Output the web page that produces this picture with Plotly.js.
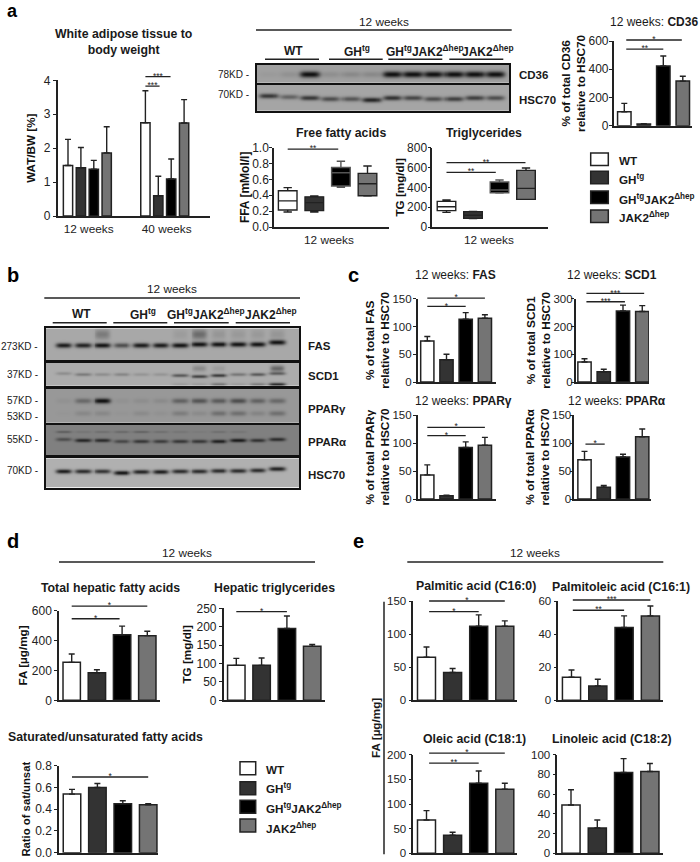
<!DOCTYPE html>
<html><head><meta charset="utf-8">
<script src="https://cdn.plot.ly/plotly-3.0.1.min.js"></script>
<style>html,body{margin:0;padding:0;background:#fff}#chart{width:700px;height:862px}</style>
</head><body><div id="chart"></div>
<script>
// ---------- data ----------
const groups = ['WT','GH<sup>tg</sup>','GH<sup>tg</sup>JAK2<sup>Δhep</sup>','JAK2<sup>Δhep</sup>'];
const groupColors = ['#ffffff','#333333','#000000','#747474'];

const watPos = [1,2,3,4,7,8,9,10];
const watMean = [1.49,1.42,1.38,1.86,2.75,0.60,1.09,2.74];
const watTop  = [2.26,2.02,1.64,2.63,3.69,1.17,1.68,3.43];

const cd36Mean = [99,12,423,316];     const cd36Top = [158,14,494,350];
const fasMean  = [74,40,113,115];     const fasTop  = [82,50,125,121];
const scd1Mean = [72,37,256,254];     const scd1Top = [84,46,277,275];
const ppargMean= [43,6,92,96];        const ppargTop= [61,7,102,110];
const pparaMean= [70,21,75,111];      const pparaTop= [85,24,80,125];
const totalFaMean=[254,185,439,433];  const totalFaTop=[310,205,497,462];
const hepTgMean= [95,95,195,147];     const hepTgTop= [114,115,229,152];
const satMean  = [0.539,0.60,0.45,0.441]; const satTop=[0.582,0.637,0.478,0.45];
const palmMean = [65,42,112,112];     const palmTop = [80.5,48,129,120];
const poleMean = [14,8.7,44,51];      const poleTop = [18.3,12.7,51,57];
const oleMean  = [67.6,36.5,142,130]; const oleTop  = [86.5,42.6,167,142];
const linoMean = [49,25.7,82,83];     const linoTop = [64.5,33.8,96,91];

// box summaries: low, q1, median, q3, high
const ffaBoxes = [[0.19,0.214,0.33,0.458,0.496],[0.19,0.206,0.307,0.38,0.39],[0.50,0.517,0.685,0.75,0.83],[0.39,0.395,0.546,0.676,0.77]];
const tgBoxes  = [[148,165,205,259,272],[84,87,118,155,158],[343,346,373,454,474],[279,279,390,571,595]];

// significance lines: from, to, height, stars
const watSig  = [[7,8.1,3.83,'***'],[7,8.95,4.11,'***']];
const ffaSig  = [[1,2.9,0.983,'**']];
const tgSig   = [[1,2.86,551,'**'],[1,3.98,649,'**']];
const cd36Sig = [[1.1,3,543,'**'],[1.1,3.95,607,'*']];
const fasSig  = [[1,3,136,'*'],[1,4,151,'*']];
const scd1Sig = [[1.1,3.1,289,'***'],[1.1,4.1,319,'***']];
const ppargSig= [[1,3,113,'*'],[1,4,128,'*']];
const pparaSig= [[1.05,2.05,98,'*']];
const totalFaSig=[[1,2.9,546,'*'],[1,4,631,'*']];
const hepTgSig= [[1,3,241,'*']];
const satSig  = [[1,4,0.696,'*']];
const palmSig = [[1.1,3,134,'*'],[1.1,4,150,'*']];
const poleSig = [[1.05,3,54.4,'**'],[1.05,4,60.6,'***']];
const oleSig  = [[1.1,3,183,'**'],[1.1,4,203,'*']];

// blot band darkness per lane (0 none - 1 black)
const blotCd36   = [0.04,0.1,1,0.12,0.16,0.16,1,1,1,1,1,1];
const blotHsc70a = [0.75,0.45,0.75,0.6,0.55,0.88,0.8,0.65,0.6,0.7,0.7,0.6];
const blotFas    = [0.95,0.9,1,0.6,0.95,0.95,1,1,1,1,1,1];
const blotFasUp  = [0,0,0.3,0,0,0,0.08,0.4,0.12,0.1,0.1,0.12];
const blotScd1   = [0.2,0.32,0.2,0.25,0.15,0.15,0.55,0.7,0.75,0.35,0.55,0.5];
const blotScd1Lo = [0,0,0,0,0,0,0.1,0.1,0.35,0.1,0.3,0.85];
const blotScd1Up = [0,0,0,0,0,0,0,0.22,0.1,0,0,0.45];
const blotPpargU = [0.05,0.35,1,0.05,0.08,0.1,0.4,0.5,0.45,0.55,0.4,0.35];
const blotPpargL = [0.02,0.12,0.12,0.03,0.1,0.05,0.2,0.1,0.3,0.3,0.15,0.3];
const blotPpara  = [0.45,0.8,0.75,0.5,0.65,0.6,0.65,0.65,0.85,0.9,0.7,0.75];
const blotPparaU = [0.3,0.1,0.15,0.2,0.25,0.15,0.1,0.05,0.15,0.1,0,0];
const blotHsc70b = [0.95,0.85,0.8,1,0.9,0.95,0.85,0.85,0.85,0.85,0.85,0.92];

// ---------- helpers ----------
const W=700,H=862;
const FONT='"Liberation Sans", Arial, sans-serif';
const INK='#222222';
const traces=[],annotations=[],shapes=[],layout={};
let idx=1;
const px=v=>v/W, py=v=>1-v/H;

function axes(r,xr,yr,xOpt,yOpt){
  const n=idx++, s=n===1?'':String(n);
  layout['xaxis'+s]=Object.assign({domain:[px(r.l),px(r.r)],range:xr,anchor:'y'+s,showgrid:false,zeroline:false,
    showline:true,linecolor:INK,linewidth:1.5,ticks:'',showticklabels:false,fixedrange:true},xOpt||{});
  layout['yaxis'+s]=Object.assign({domain:[py(r.b),py(r.t)],range:yr,anchor:'x'+s,showgrid:false,zeroline:false,
    showline:true,linecolor:INK,linewidth:1.5,ticks:'outside',ticklen:3,tickwidth:1.3,tickcolor:INK,
    tickfont:{family:FONT,size:12,color:INK},fixedrange:true},yOpt||{});
  return {x:'x'+s,y:'y'+s};
}
function xr(r,c1,pitch){return [1-(c1-r.l)/pitch,1+(r.r-c1)/pitch];}
const smallTicks={tickfont:{family:FONT,size:11.5,color:INK}};
function yTitle(text,standoff,size){return {title:{text:text,standoff:standoff,font:{family:FONT,size:size||11.7,color:'#111'}}};}
// significance lines sit above the top tick: same scale, on a hidden companion axis reaching higher
function sigLines(r,c1,pitch,yMax,sigs){
  if(!sigs||!sigs.length)return;
  const extra=26, h=r.b-r.t;
  const hide={visible:false};
  const a=axes({l:r.l,r:r.r,t:r.t-extra,b:r.b},xr(r,c1,pitch),[0,yMax*(h+extra)/h],hide,hide);
  sigs.forEach(s=>{
    traces.push({type:'scatter',mode:'lines',xaxis:a.x,yaxis:a.y,x:[s[0],s[1]],y:[s[2],s[2]],
      line:{color:INK,width:1.3},hoverinfo:'skip',showlegend:false});
    traces.push({type:'scatter',mode:'text',xaxis:a.x,yaxis:a.y,x:[(s[0]+s[1])/2],y:[s[2]],text:[s[3]],textposition:'middle center',
      textfont:{family:FONT,size:8.5,color:INK},hoverinfo:'skip',showlegend:false});
  });
}
function barPlot(r,c1,pitch,x,mean,top,yMax,ticks,sigs,title,xOpt,colorsRepeat,bw){
  const a=axes(r,xr(r,c1,pitch),[0,yMax],xOpt,Object.assign({tickvals:ticks},title));
  traces.push({type:'bar',xaxis:a.x,yaxis:a.y,x:x,y:mean,width:bw||0.69,
    marker:{color:x.map((_,i)=>groupColors[i%4]),line:{color:INK,width:1.5}},
    error_y:{type:'data',symmetric:false,array:top.map((t,i)=>t-mean[i]),arrayminus:top.map(()=>0),color:INK,thickness:1.4,width:3},
    hoverinfo:'y',showlegend:false});
  sigLines(r,c1,pitch,yMax,sigs);
  return a;
}
function boxPlot(r,c1,pitch,boxes,yMax,ticks,sigs,title,xOpt,yFmt){
  const a=axes(r,xr(r,c1,pitch),[0,yMax],xOpt,Object.assign({tickvals:ticks},title,yFmt||{}));
  boxes.forEach((b,i)=>traces.push({type:'box',xaxis:a.x,yaxis:a.y,x:[i+1],lowerfence:[b[0]],q1:[b[1]],median:[b[2]],q3:[b[3]],upperfence:[b[4]],
    width:0.7,whiskerwidth:0.45,fillcolor:groupColors[i],line:{color:i===2?'#555':INK,width:1.4},hoverinfo:'skip',showlegend:false,boxpoints:false}));
  sigLines(r,c1,pitch,yMax,sigs);
}
function blot(r,c1,pitch,bg,bands){
  const a=axes(r,xr(r,c1,pitch),[r.b,r.t],{mirror:true,linecolor:'#111',linewidth:1.6},{mirror:true,linecolor:'#111',linewidth:1.6,ticks:'',showticklabels:false});
  const range=xr(r,c1,pitch),xs=[],ys=[],z=[];
  for(let v=range[0];v<=range[1];v+=0.05)xs.push(v);
  for(let y=r.t;y<=r.b;y+=1)ys.push(y);
  ys.forEach(y=>z.push(xs.map(x=>{
    let g=bg;
    bands.forEach(b=>b.v.forEach((d,l)=>{
      if(!d)return;
      const off=(b.off&&b.off[l])||0;
      g-=d*(bg-18)*Math.exp(-Math.pow((x-l-1)/(b.w||0.42),4))*Math.exp(-Math.pow((y-b.y-off)/b.h,2));
    }));
    return Math.max(8,g);
  })));
  traces.push({type:'heatmap',xaxis:a.x,yaxis:a.y,x:xs,y:ys,z:z,zmin:0,zmax:255,zsmooth:'best',showscale:false,hoverinfo:'skip',
    colorscale:[[0,'#000'],[1,'#fff']]});
}
function text(x,y,t,size,opt){opt=opt||{};
  annotations.push({xref:'paper',yref:'paper',x:px(x),y:py(y),text:opt.bold?'<b>'+t+'</b>':t,showarrow:false,
    xanchor:opt.anchor||'center',yanchor:'middle',align:'center',textangle:opt.angle||0,
    font:{family:FONT,size:size,color:opt.color||'#1a1a1a'}});
}
function line(x0,y0,x1,y1,w,c){shapes.push({type:'line',xref:'paper',yref:'paper',x0:px(x0),x1:px(x1),y0:py(y0),y1:py(y1),line:{color:c||INK,width:w||1.5}});}
function legend(xa,xb,ys,hs,xl,yl,size){
  groups.forEach((g,i)=>{
    shapes.push({type:'rect',xref:'paper',yref:'paper',x0:px(xa),x1:px(xb),y0:py(ys[i]+hs),y1:py(ys[i]),fillcolor:groupColors[i],line:{color:INK,width:1.5}});
    text(xl,yl[i],g,size,{bold:true,anchor:'left'});
  });
}
const weekTick=v=>({tickvals:[v],ticktext:['12 weeks'],showticklabels:true,ticks:'outside',ticklen:1,tickcolor:'rgba(0,0,0,0)',tickfont:{family:FONT,size:11.8,color:INK}});
const T=12.3; // bold panel-title size

// ---------- panel a ----------
barPlot({l:57.7,r:210,t:80.3,b:216},68,12.9,watPos,watMean,watTop,4,[0,1,2,3,4],watSig,yTitle('<b>WAT/BW [%]</b>',6),
  {tickvals:[2.6,8.65],ticktext:['12 weeks','40 weeks'],showticklabels:true,ticks:'outside',ticklen:1,tickcolor:'rgba(0,0,0,0)',tickfont:{family:FONT,size:11.8,color:INK}},null,0.72);
boxPlot({l:274,r:389.3,t:147.7,b:227},287.7,26.6,ffaBoxes,1,[0,0.2,0.4,0.6,0.8,1],ffaSig,yTitle('<b>FFA [mMol/l]</b>',0,12),weekTick(2.55),{tickformat:'.1f',ticklabelstandoff:-2});
boxPlot({l:432.3,r:547.7,t:147.7,b:227},446.5,26.5,tgBoxes,800,[0,200,400,600,800],tgSig,yTitle('<b>TG [mg/dl]</b>',0),weekTick(2.6),{ticklabelstandoff:-2});
barPlot({l:613.7,r:692.3,t:41,b:125.7},624.3,19.5,[1,2,3,4],cd36Mean,cd36Top,600,[0,200,400,600],cd36Sig,Object.assign(yTitle('<b>% of total CD36<br>relative to HSC70</b>',0,11.8),{ticklabelstandoff:-2}));
blot({l:257,r:509.3,t:65,b:82.7},268.3,20.6,160,[{y:74,h:3.2,w:0.48,v:blotCd36}]);
blot({l:257,r:509.3,t:84.7,b:111},268.3,20.6,165,[{y:97.5,h:2.4,w:0.46,v:blotHsc70a,off:[-2,-1,0,1,1,2,0,0,1,1,0,0]}]);

text(124,42,'White adipose tissue to<br>body weight',T,{bold:true});
text(12,11,'a',18,{bold:true,color:'#000'});
text(384,22,'12 weeks',11.8);
line(256,30,511.7,30,1.5);
[[265,319],[329,382.7],[388.3,442.3],[449.3,503.3]].forEach(s=>line(s[0],59.3,s[1],59.3,1.5));
text(293,50.5,groups[0],12,{bold:true});
text(357,50.5,groups[1],12,{bold:true});
text(424.7,50.5,groups[2],12,{bold:true});
text(488,50.5,groups[3],12,{bold:true});
text(251.5,74,'78KD -',10,{anchor:'right'});
text(251.5,94.5,'70KD -',10,{anchor:'right'});
text(516.5,75,'CD36',11.5,{bold:true,anchor:'left'});
text(516.5,100,'HSC70',11.5,{bold:true,anchor:'left'});
text(341,133,'Free fatty acids',T,{bold:true});
text(483.5,133,'Triglycerides',T,{bold:true});
text(654,21.5,'12 weeks: <b>CD36</b>',12);
legend(590.7,608.3,[153,171.3,191,210],12.5,616.7,[160.7,179,199,217],11.7);

// ---------- panel b ----------
const bc=63.3,bp=19.4;
blot({l:46,r:299,t:328.3,b:360},bc,bp,168,[{y:345,h:2.4,v:blotFas,off:[0,0,0,0,0,0,0,-1,-1,-1,-1,-3]},{y:334,h:5,w:0.38,v:blotFasUp}]);
blot({l:46,r:299,t:362.7,b:386},bc,bp,172,[{y:375,h:1.6,v:blotScd1,off:[-2,-1,-1,-1,-1,-1,0,1,0,-1,-1,-2]},{y:384,h:1.7,v:blotScd1Lo},{y:368,h:3,w:0.35,v:blotScd1Up}]);
blot({l:46,r:299,t:389,b:422.7},bc,bp,152,[{y:400.5,h:2.6,w:0.42,v:blotPpargU},{y:413,h:2.6,w:0.42,v:blotPpargL}]);
blot({l:46,r:299,t:425,b:455},bc,bp,128,[{y:441,h:1.9,v:blotPpara,off:[-2,-1,-1,0,0,0,0,0,0,-1,-1,-2]},{y:431.5,h:1.3,v:blotPparaU}]);
blot({l:46,r:299,t:458.3,b:487.7},bc,bp,176,[{y:471,h:2.1,v:blotHsc70b,off:[0,0,0,1.5,0.5,0.5,0,0,-0.5,-0.5,-1,-2.5]}]);

text(13,275,'b',20,{bold:true,color:'#000'});
text(172,289,'12 weeks',11.8);
line(44.3,298,300,298,1.5);
[[52.7,106.7],[113.3,167.3],[174,228.7],[235.7,290]].forEach(s=>line(s[0],322.7,s[1],322.7,1.5));
text(81.7,314,groups[0],12,{bold:true});
text(143,314,groups[1],12,{bold:true});
text(206,314,groups[2],12,{bold:true});
text(271,314,groups[3],12,{bold:true});
[['273KD -',346],['37KD -',374.3],['57KD -',400],['53KD -',416],['55KD -',439.3],['70KD -',470.7]].forEach(t=>text(39.5,t[1],t[0],10,{anchor:'right'}));
[['FAS',345.7],['SCD1',376],['PPARγ',409],['PPARα',442.3],['HSC70',475]].forEach(t=>text(306,t[1],t[0],11.5,{bold:true,anchor:'left'}));

// ---------- panel c ----------
const t4=[1,2,3,4];
const cTitle=(s,shift)=>Object.assign(yTitle('<b>% of total '+s+'<br>relative to HSC70</b>',0,11.8),smallTicks,{ticklabelstandoff:shift});
barPlot({l:417.7,r:495.7,t:298.7,b:382},427.3,19.2,t4,fasMean,fasTop,150,[0,50,100,150],fasSig,cTitle('FAS',-1));
barPlot({l:575.7,r:649,t:298.7,b:382},584.5,19.25,t4,scd1Mean,scd1Top,300,[0,100,200,300],scd1Sig,cTitle('SCD1',-4));
barPlot({l:417.7,r:495.7,t:415,b:499},427.3,19.2,t4,ppargMean,ppargTop,150,[0,50,100,150],ppargSig,cTitle('PPARγ',-1));
barPlot({l:574.3,r:651,t:415,b:499},584.5,19.25,t4,pparaMean,pparaTop,150,[0,50,100,150],pparaSig,cTitle('PPARα',-4));
text(354,275,'c',20,{bold:true,color:'#000'});
text(455,275.3,'12 weeks: <b>FAS</b>',12);
text(611.7,275.3,'12 weeks: <b>SCD1</b>',12);
text(463.3,400.7,'12 weeks: <b>PPARγ</b>',12);
text(616.7,400.7,'12 weeks: <b>PPARα</b>',12);

// ---------- panel d ----------
barPlot({l:59,r:160,t:610.7,b:700.3},71.7,25.2,t4,totalFaMean,totalFaTop,600,[0,200,400,600],totalFaSig,yTitle('<b>FA [µg/mg]</b>',2));
barPlot({l:223.7,r:325,t:608.3,b:700.3},236.3,25.3,t4,hepTgMean,hepTgTop,250,[0,50,100,150,200,250],hepTgSig,yTitle('<b>TG [mg/dl]</b>',2));
barPlot({l:59,r:158.3,t:765.7,b:852.7},72,25.4,t4,satMean,satTop,0.8,[0,0.2,0.4,0.6,0.8],satSig,Object.assign(yTitle('<b>Ratio of sat/unsat</b>',2,11.3),{tickformat:'.1f'}));
text(13,541,'d',20,{bold:true,color:'#000'});
text(186.7,553,'12 weeks',11.8);
line(59,562,315,562,1.5);
text(111,588,'Total hepatic fatty acids',T,{bold:true});
text(274.3,588,'Hepatic triglycerides',T,{bold:true});
text(105.7,737.3,'Saturated/unsaturated fatty acids',T,{bold:true});
legend(240,255.7,[761.7,781.7,800.3,819],13,264,[769.3,788.3,808.3,828.3],11.7);

// ---------- panel e ----------
barPlot({l:413.3,r:517.3,t:601,b:700.3},426.5,26.1,t4,palmMean,palmTop,150,[0,50,100,150],palmSig,smallTicks);
barPlot({l:558.3,r:662.7,t:601,b:700.3},571.5,26.3,t4,poleMean,poleTop,60,[0,20,40,60],poleSig,smallTicks);
barPlot({l:413.3,r:517.3,t:754.7,b:853.3},426.5,26.1,t4,oleMean,oleTop,200,[0,50,100,150,200],oleSig,smallTicks);
barPlot({l:557.3,r:662.7,t:754.7,b:853.3},571,26.3,t4,linoMean,linoTop,100,[0,20,40,60,80,100],[],smallTicks);
text(358,541,'e',20,{bold:true,color:'#000'});
text(535,553,'12 weeks',11.8);
line(407.3,562,663.3,562,1.5);
line(384,601.7,384,854.3,1.5);
text(375,728,'FA [µg/mg]',11.7,{bold:true,angle:-90});
text(476,586,'Palmitic acid (C16:0)',T,{bold:true});
text(621,586.7,'Palmitoleic acid (C16:1)',T,{bold:true});
text(474.3,739.3,'Oleic acid (C18:1)',T,{bold:true});
text(611.7,739.3,'Linoleic acid (C18:2)',T,{bold:true});

Object.assign(layout,{width:W,height:H,margin:{l:0,r:0,t:0,b:0,pad:0},paper_bgcolor:'#fff',plot_bgcolor:'rgba(0,0,0,0)',
  showlegend:false,annotations:annotations,shapes:shapes,font:{family:FONT},hovermode:false});
Plotly.newPlot('chart',traces,layout,{displayModeBar:false,responsive:false});
</script></body></html>
